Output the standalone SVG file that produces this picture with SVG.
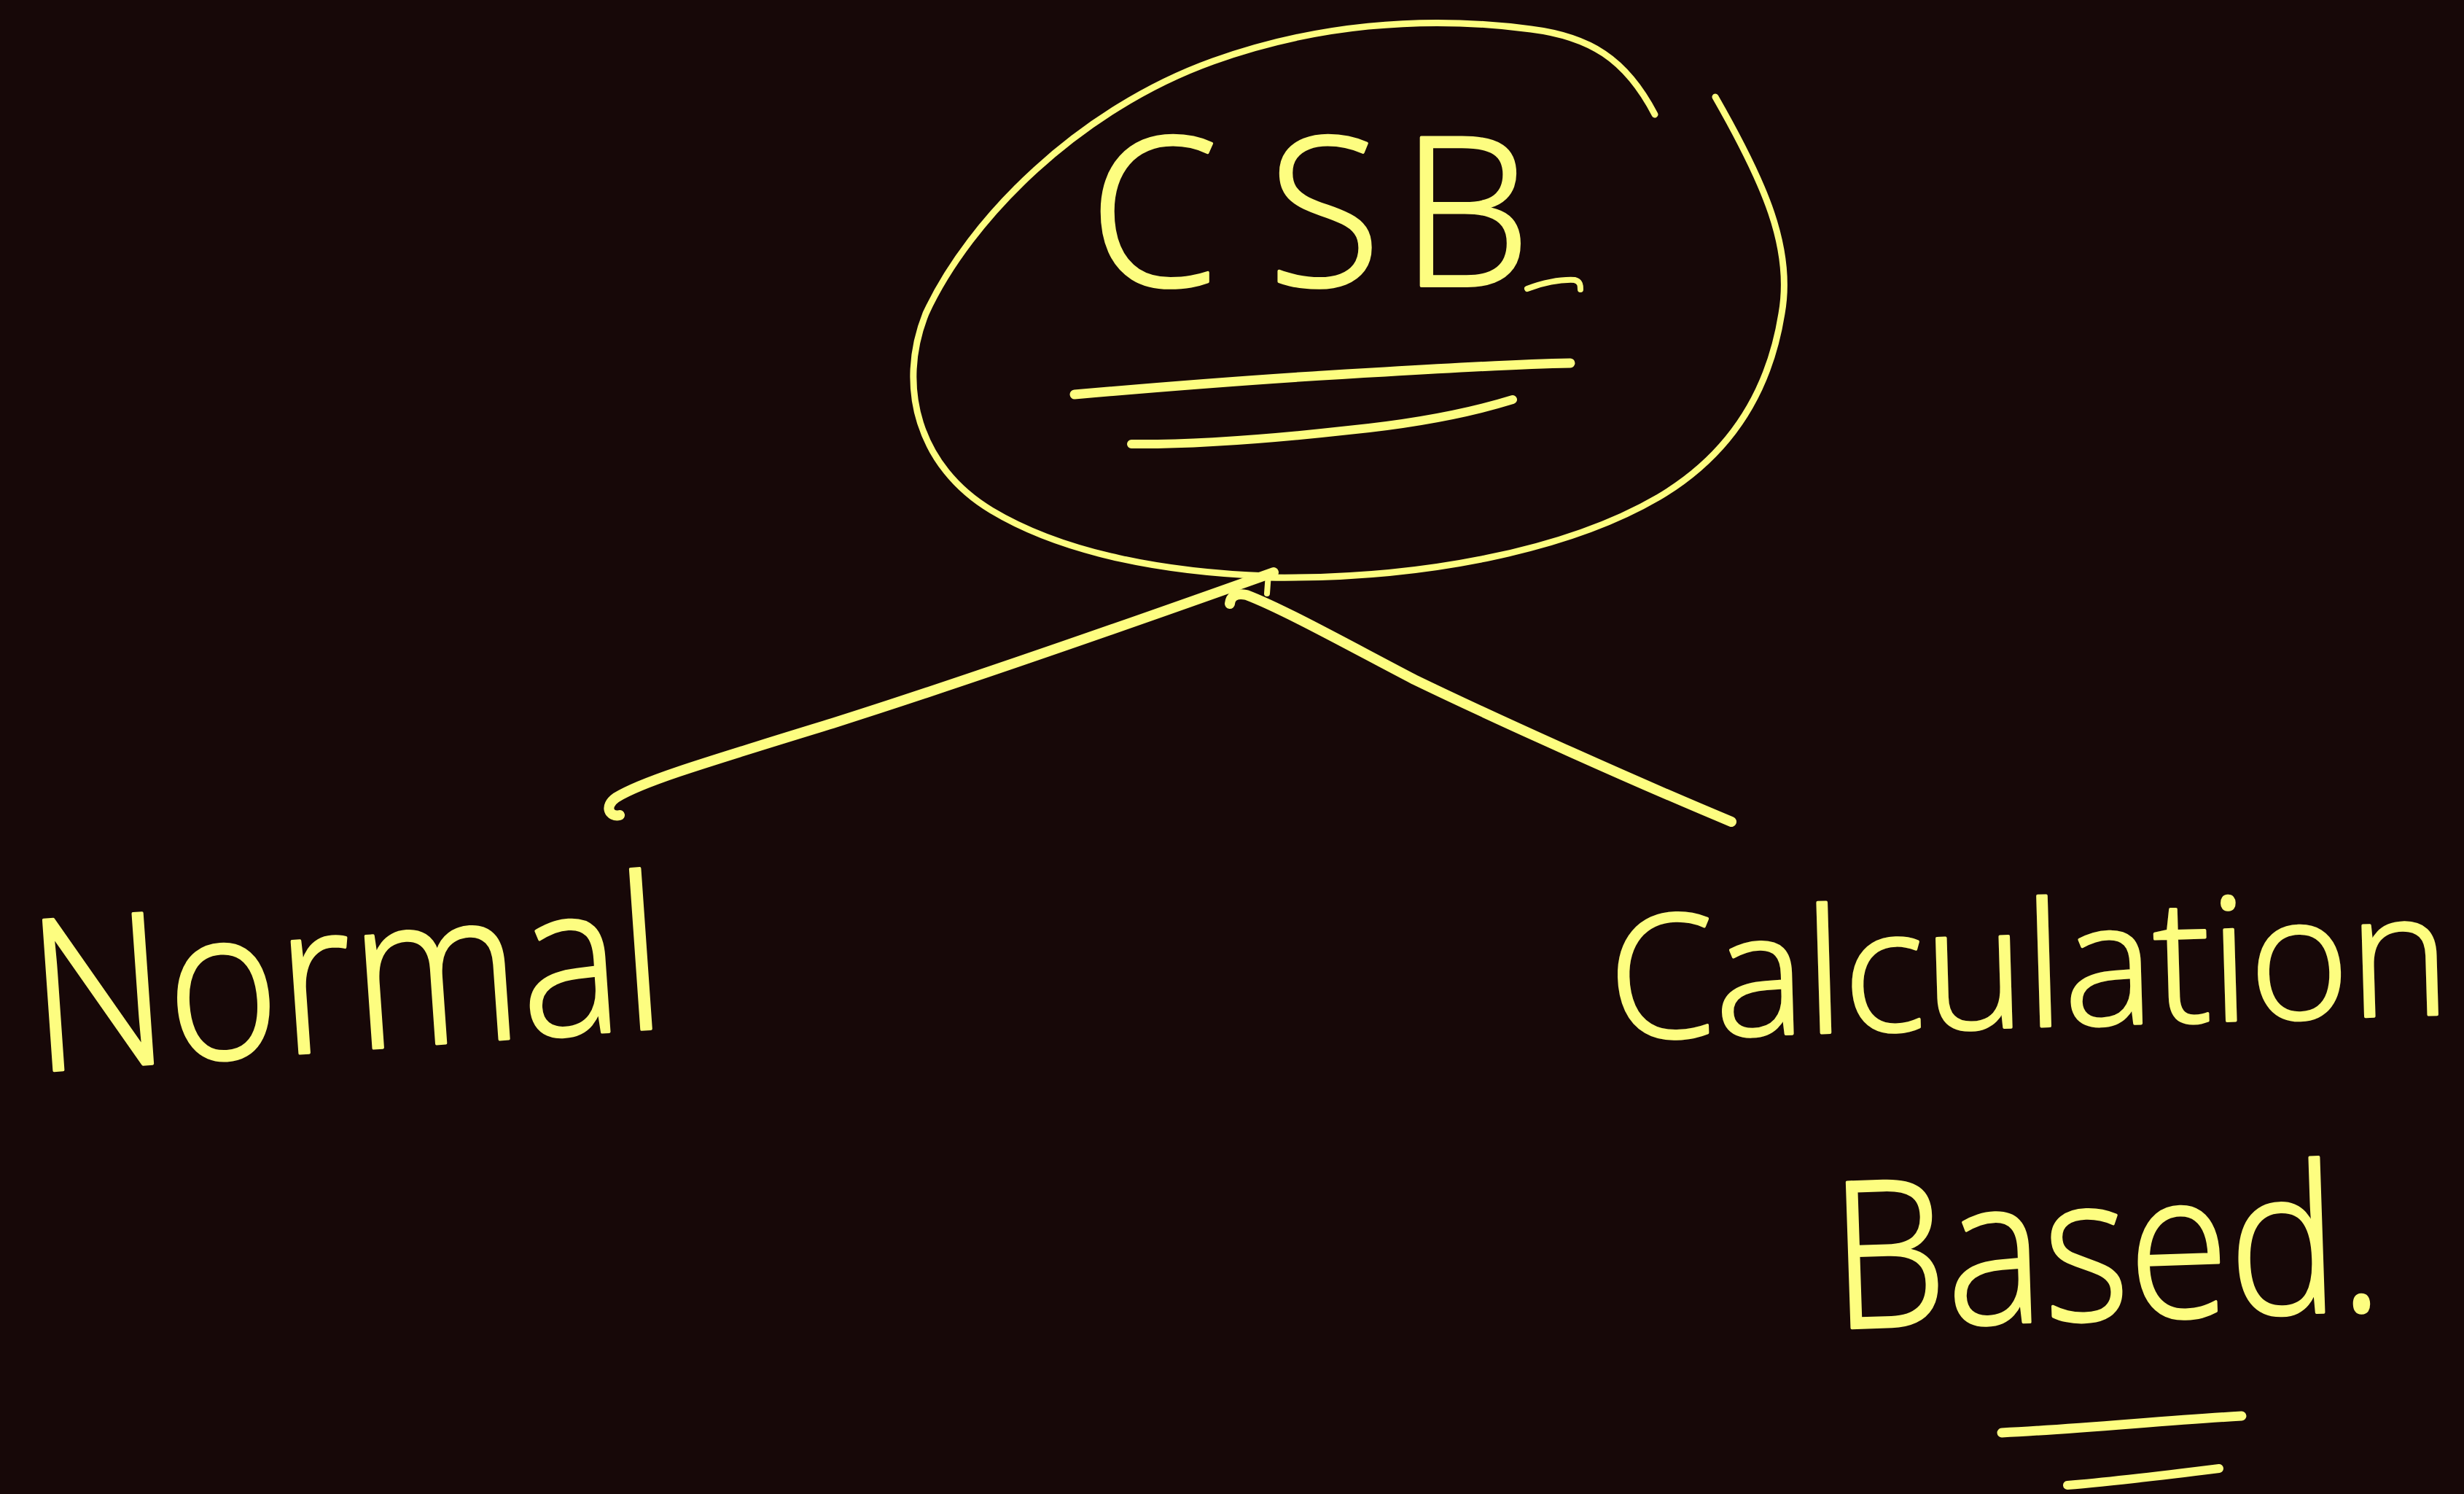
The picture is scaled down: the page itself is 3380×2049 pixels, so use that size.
<svg xmlns="http://www.w3.org/2000/svg" width="3380" height="2049" viewBox="0 0 3380 2049">
<style>
.bg{fill:#170808}
.ink{fill:none;stroke:#fdfd80;stroke-linecap:round;stroke-linejoin:round}
.hand{fill:#fdfd80;stroke:#fdfd80;stroke-width:4;stroke-linejoin:round;font-family:"Open Sans","Liberation Sans",sans-serif;font-weight:300}
</style>
<rect class="bg" x="0" y="0" width="3380" height="2049"/>
<g id="node-csb">
<path class="ink" stroke-width="9" d="M 2270 157 C 2230 80 2180 50 2100 40 C 1950 20 1800 35 1664 84 C 1480 150 1330 300 1270 430 C 1230 530 1260 640 1360 700 C 1460 760 1600 785 1739 790"/>
<path class="ink" stroke-width="9" d="M 2353 133 C 2420 250 2460 340 2444 430 C 2428 530 2380 620 2275 682 C 2150 755 1950 795 1739 792"/>
<text class="hand" font-size="285" x="1494 1739 1921" y="392">CSB</text>
<path class="ink" stroke-width="8" d="M 2095 396 C 2115 388 2140 383 2160 384 C 2168 386 2168 392 2168 397"/>
<path class="ink" stroke-width="13" d="M 1474 541 C 1600 530 1750 518 1900 510 C 2000 504 2100 499 2154 498"/>
<path class="ink" stroke-width="12" d="M 1552 609 C 1650 610 1760 600 1850 590 C 1950 580 2020 565 2075 548"/>
</g>
<g id="connectors">
<path class="ink" stroke-width="14" d="M 850 1118 C 836 1121 828 1106 845 1094 C 880 1072 960 1048 1142 992 C 1300 942 1500 873 1747 785"/>
<path class="ink" stroke-width="8" d="M 1740 787 L 1738 814"/>
<path class="ink" stroke-width="14" d="M 1687 828 C 1688 818 1695 813 1710 816 C 1760 835 1850 885 1940 932 C 2060 990 2250 1075 2375 1127"/>
</g>
<g id="node-normal">
<text class="hand" font-size="290" x="48" y="1470" textLength="870" lengthAdjust="spacingAndGlyphs" transform="rotate(-4 48 1470)">Normal</text>
</g>
<g id="node-calculation">
<text class="hand" font-size="235" x="2209" y="1425" textLength="1154" lengthAdjust="spacingAndGlyphs" transform="rotate(-1.7 2209 1425)">Calculation</text>
<text class="hand" font-size="280" x="2515" y="1822" textLength="755" lengthAdjust="spacingAndGlyphs" transform="rotate(-1.9 2515 1822)">Based.</text>
<path class="ink" stroke-width="13" d="M 2746 1965 C 2850 1960 2970 1948 3075 1942"/>
<path class="ink" stroke-width="12" d="M 2836 2037 C 2900 2032 2980 2022 3044 2014"/>
</g>
</svg>
